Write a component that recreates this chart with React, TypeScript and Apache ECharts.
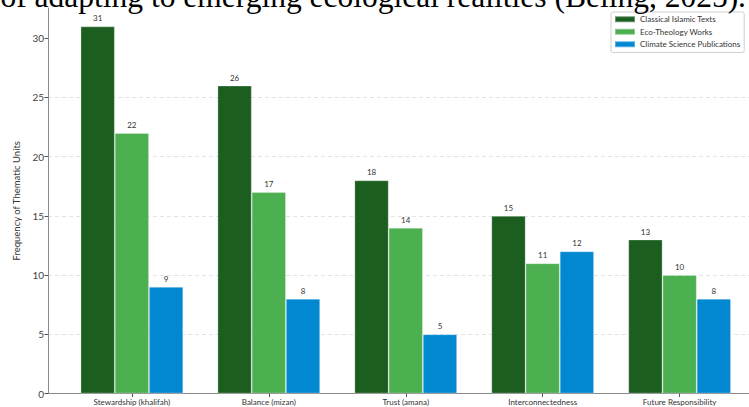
import React, { useEffect, useRef } from "react";
import * as echarts from "echarts";

const categories = [
  "Stewardship (khalifah)",
  "Balance (mizan)",
  "Trust (amana)",
  "Interconnectedness",
  "Future Responsibility",
];
const seriesNames = [
  "Classical Islamic Texts",
  "Eco-Theology Works",
  "Climate Science Publications",
];
const classicalValues = [31, 26, 18, 15, 13];
const ecoTheologyValues = [22, 17, 14, 11, 10];
const climateValues = [9, 8, 5, 12, 8];
const yTicks = [0, 5, 10, 15, 20, 25, 30];
const colors = ["#1b5e20", "#4caf50", "#0288d1"];
const headerText = "of adapting to emerging ecological realities (Beling, 2025).";

const FONT = "Lato";

export default function App() {
  const ref = useRef<HTMLDivElement>(null);
  useEffect(() => {
    if (!ref.current) return;
    const chart = echarts.init(ref.current, null, { renderer: "svg" });
    const allValues = [classicalValues, ecoTheologyValues, climateValues];
    const idx = categories.map((_, i) => i);
    chart.setOption({
      animation: false,
      backgroundColor: "#ffffff",
      textStyle: { fontFamily: FONT },
      grid: {
        left: 48,
        top: 8.1,
        width: 715.5,
        bottom: 13.5,
        containLabel: false,
        outerBoundsMode: "none",
      },
      legend: {
        orient: "vertical",
        left: 611,
        top: 12,
        padding: [3, 4, 4, 3],
        itemWidth: 20,
        itemHeight: 6,
        itemGap: 4,
        icon: "rect",
        borderColor: "#d0d0d0",
        borderWidth: 1,
        borderRadius: 2,
        backgroundColor: "#ffffff",
        textStyle: { fontSize: 8, color: "#333", fontFamily: FONT, lineHeight: 8.5 },
        data: seriesNames,
      },
      xAxis: {
        type: "value",
        min: -0.6125,
        max: 4.6125,
        axisLine: { show: true, onZero: false, lineStyle: { color: "#8a8a8a", width: 1 } },
        axisTick: { show: true, customValues: idx, length: 3.5, lineStyle: { color: "#555" } },
        axisLabel: {
          show: true,
          customValues: idx,
          formatter: (v: number) => categories[Math.round(v)] ?? "",
          fontSize: 8,
          color: "#333",
          margin: 4,
          fontFamily: FONT,
        },
        splitLine: { show: false },
      },
      yAxis: {
        type: "value",
        min: 0,
        max: 32.55,
        interval: 5,
        name: "Frequency of Thematic Units",
        nameLocation: "middle",
        nameGap: 24.5,
        nameTextStyle: { fontSize: 9.5, color: "#333", fontFamily: FONT },
        axisLine: { show: true, onZero: false, lineStyle: { color: "#8a8a8a", width: 1 } },
        axisTick: { show: true, customValues: yTicks, length: 3.5, lineStyle: { color: "#555" } },
        axisLabel: {
          customValues: yTicks,
          fontSize: 10,
          color: "#444",
          margin: 4,
          fontFamily: FONT,
        },
        splitLine: {
          show: true,
          showMinLine: false,
          showMaxLine: false,
          lineStyle: { color: "#dcdcdc", type: [4, 3], width: 0.8 },
        },
      },
      series: seriesNames.map((name, s) => ({
        name,
        type: "bar",
        barWidth: 34.2,
        barGap: "0%",
        data: allValues[s].map((v, i) => [i, v]),
        itemStyle: {
          color: colors[s],
          borderColor: "rgba(255,255,255,0.35)",
          borderWidth: 0.8,
        },
        label: {
          show: true,
          position: "top",
          distance: 4,
          fontSize: 8,
          color: "#333",
          fontFamily: FONT,
          formatter: (p: any) => String(p.value[1]),
        },
      })),
      graphic: [
        {
          type: "text",
          x: 746,
          y: -4,
          z: 100,
          style: {
            text: headerText,
            font: '31.5px "Liberation Serif", "Times New Roman", serif',
            fill: "#000",
            align: "right",
            verticalAlign: "middle",
          },
        },
      ],
    });
    return () => chart.dispose();
  }, []);
  return (
    <div
      ref={ref}
      style={{ position: "absolute", left: 0, top: 0, width: 749, height: 407, overflow: "hidden" }}
    />
  );
}
